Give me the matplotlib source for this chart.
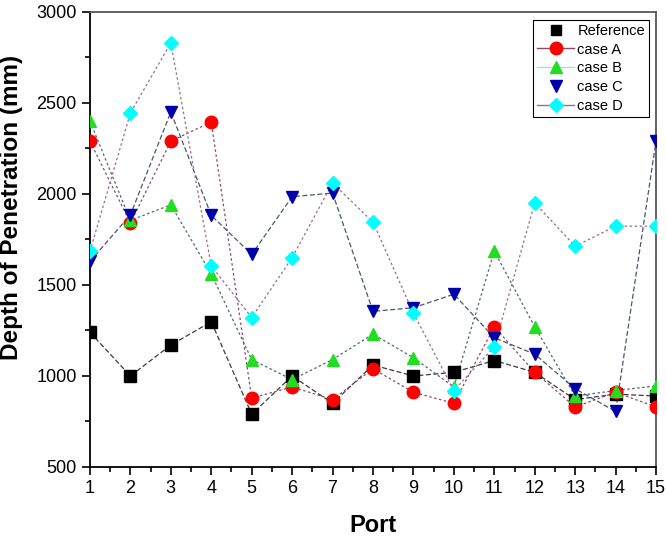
import matplotlib
matplotlib.use("Agg")
import matplotlib.pyplot as plt
from matplotlib.lines import Line2D
from matplotlib.ticker import MultipleLocator

plt.rcParams['font.family'] = ['Liberation Sans', 'DejaVu Sans']

ports = list(range(1, 16))
reference = [1240, 1000, 1170, 1298, 790, 1000, 850, 1060, 1000, 1020, 1085, 1020, 870, 900, 890]
case_a = [2290, 1840, 2290, 2395, 878, 940, 870, 1040, 910, 850, 1270, 1020, 830, 910, 830]
case_b = [2400, 1855, 1940, 1560, 1090, 980, 1090, 1230, 1100, 940, 1686, 1270, 890, 920, 945]
case_c = [1630, 1885, 2450, 1882, 1668, 1985, 2005, 1355, 1375, 1449, 1210, 1120, 930, 805, 2290]
case_d = [1685, 2445, 2830, 1605, 1321, 1650, 2060, 1845, 1345, 920, 1160, 1951, 1713, 1823, 1823]

fig = plt.figure(figsize=(6.66, 5.43), dpi=100)
ax = fig.add_axes([0.1351, 0.140, 0.8499, 0.838])

# line colour, line style, marker, marker colour
series = [
    (reference, 'Reference', '#3a3a3a', (0, (4, 2)), 's', 'black'),
    (case_a, 'case A', '#8a4a6a', (0, (2, 2)), 'o', 'red'),
    (case_b, 'case B', '#4a6a6a', (0, (2, 2)), '^', '#22dd22'),
    (case_c, 'case C', '#4a5570', (0, (4, 2)), 'v', '#0000aa'),
    (case_d, 'case D', '#9a6a9a', (0, (2, 2)), 'D', 'cyan'),
]

for vals, name, lc, ls, mk, mc in series:
    ax.plot(ports, vals, color=lc, linestyle=ls, linewidth=0.9, zorder=2)
    ms = 7.5 if mk == 'D' else 9
    ax.plot(ports, vals, linestyle='none', marker=mk, markersize=ms,
            markerfacecolor=mc, markeredgecolor=mc, zorder=3)

handles = [
    Line2D([], [], linestyle='none', marker='s', markersize=7.5, color='black'),
    Line2D([], [], color='#8a4a6a', linewidth=1, marker='o', markersize=9, markerfacecolor='red', markeredgecolor='red'),
    Line2D([], [], color='#aadddd', linewidth=1, marker='^', markersize=9, markerfacecolor='#22dd22', markeredgecolor='#22dd22'),
    Line2D([], [], linestyle='none', marker='v', markersize=9, color='#0000aa'),
    Line2D([], [], color='#9a6a9a', linewidth=1, marker='D', markersize=7.5, markerfacecolor='cyan', markeredgecolor='cyan'),
]
leg = ax.legend(handles, ['Reference', 'case A', 'case B', 'case C', 'case D'],
                loc='upper right', bbox_to_anchor=(0.987, 0.982), fontsize=10.5,
                frameon=True, fancybox=False, edgecolor='black', framealpha=1,
                handlelength=2.6, handletextpad=0.2, labelspacing=0.33,
                borderpad=0.25, borderaxespad=0)
leg.get_frame().set_linewidth(0.8)

ax.set_xlim(1, 15)
ax.set_ylim(500, 3000)
ax.xaxis.set_major_locator(MultipleLocator(1))
ax.xaxis.set_minor_locator(MultipleLocator(0.5))
ax.yaxis.set_major_locator(MultipleLocator(500))
ax.yaxis.set_minor_locator(MultipleLocator(250))
ax.tick_params(which='major', direction='out', length=6, width=1.2, labelsize=13)
ax.tick_params(which='minor', direction='out', length=3.5, width=1.2)

for s in ['left', 'bottom']:
    ax.spines[s].set_color('black')
    ax.spines[s].set_linewidth(1.3)
for s in ['top', 'right']:
    ax.spines[s].set_color('#555555')
    ax.spines[s].set_linewidth(1.3)

ax.set_xlabel('Port', fontsize=17, fontweight='bold', labelpad=12)
ax.set_ylabel('Depth of Penetration (mm)', fontsize=17.5, fontweight='bold')
ax.yaxis.set_label_coords(-0.118, 0.57)

fig.savefig('out.png', dpi=100)
